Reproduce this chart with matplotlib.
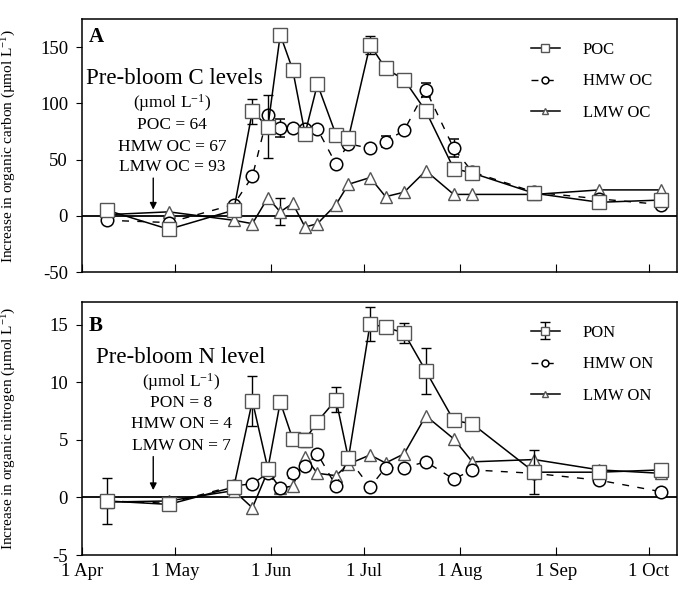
import matplotlib
matplotlib.use('Agg')
import numpy as np
import matplotlib.pyplot as plt
import matplotlib.dates as mdates

plt.rcParams['font.family'] = ['Liberation Serif', 'DejaVu Serif']
plt.rcParams['mathtext.fontset'] = 'custom'
plt.rcParams['mathtext.rm'] = 'Liberation Serif'
plt.rcParams['mathtext.it'] = 'Liberation Serif:italic'
plt.rcParams['axes.unicode_minus'] = False

# ---------------- data ----------------
dates = ['1998-04-09', '1998-04-29', '1998-05-20', '1998-05-26', '1998-05-31',
         '1998-06-04', '1998-06-08', '1998-06-12', '1998-06-16', '1998-06-22',
         '1998-06-26', '1998-07-03', '1998-07-08', '1998-07-14', '1998-07-21',
         '1998-07-30', '1998-08-05', '1998-08-25', '1998-09-15', '1998-10-05']

poc = [5, -12, 5, 93, 79, 161, 130, 73, 117, 72, 69, 152, 131, 121, 93, 42, 38, 20, 12, 14]
poc_err = [0, 0, 0, 11, 28, 0, 0, 0, 0, 0, 0, 8, 0, 5, 0, 0, 0, 0, 0, 0]
hmw_oc = [-4, -6, 10, 35, 90, 78, 78, 77, 77, 46, 64, 60, 66, 76, 112, 60, 39, 21, 15, 10]
hmw_oc_err = [0, 0, 0, 0, 0, 8, 0, 0, 0, 0, 0, 0, 5, 0, 6, 8, 3, 0, 0, 0]
lmw_oc = [1, 3.5, -4, -7, 16, 3.5, 11, -10, -7, 10, 28, 34, 17, 21, 40, 19, 19, 19, 23, 23]
lmw_oc_err = [0, 0, 0, 0, 0, 12, 0, 0, 0, 0, 0, 0, 0, 0, 0, 0, 0, 0, 0, 0]

pon = [-0.3, -0.6, 0.9, 8.4, 2.5, 8.3, 5.1, 5.0, 6.6, 8.5, 3.4, 15.1, 14.8, 14.3, 11.0, 6.7, 6.4, 2.2, 2.2, 2.4]
pon_err = [2.0, 0, 0, 2.2, 0, 0, 0, 0.6, 0, 1.1, 0, 1.5, 0, 0.9, 2.0, 0, 0.3, 1.9, 0.3, 0]
hmw_on = [-0.3, -0.5, 1.0, 1.2, 2.1, 0.8, 2.1, 2.7, 3.8, 1.0, 3.4, 0.9, 2.6, 2.6, 3.1, 1.6, 2.4, 2.1, 1.5, 0.5]
lmw_on = [-0.4, -0.3, 0.6, -0.9, 2.3, 0.8, 1.0, 3.5, 2.1, 1.9, 2.9, 3.7, 3.0, 3.8, 7.1, 5.1, 3.1, 3.3, 2.4, 2.1]

labels_a = ['POC', 'HMW OC', 'LMW OC']
labels_b = ['PON', 'HMW ON', 'LMW ON']
month_ticks = ['1998-04-01', '1998-05-01', '1998-06-01', '1998-07-01',
               '1998-08-01', '1998-09-01', '1998-10-01']
month_labels = ['1 Apr', '1 May', '1 Jun', '1 Jul', '1 Aug', '1 Sep', '1 Oct']

x = np.array(dates, dtype='datetime64[D]')
xt = np.array(month_ticks, dtype='datetime64[D]')
xlim = (np.datetime64('1998-04-01'), np.datetime64('1998-10-10'))

fig = plt.figure(figsize=(6.85, 5.92), dpi=100)
axA = fig.add_axes([0.1197, 0.5405, 0.8683, 0.4275])
axB = fig.add_axes([0.1197, 0.0625, 0.8683, 0.4274])

sq_edge = '#555555'
tri_edge = '#555555'


def draw(ax, s1, e1, s2, e2, s3, e3, labels, legend_err):
    e1 = np.array(e1, float); e2 = np.array(e2, float); e3 = np.array(e3, float)
    ax.axhline(0, color='black', lw=1.3, zorder=1)
    h3 = ax.errorbar(x, s3, yerr=np.where(e3 > 0, e3, np.nan), color='black', lw=1.1,
                     marker='^', ms=9, mfc='white', mec=tri_edge, mew=1.0,
                     capsize=3.5, elinewidth=1.0, ecolor='black', zorder=3)
    h2 = ax.errorbar(x, s2, yerr=np.where(e2 > 0, e2, np.nan), color='black', lw=1.0,
                     ls=(0, (5, 6)), marker='o', ms=9, mfc='white', mec='black', mew=1.1,
                     capsize=3.5, elinewidth=1.0, ecolor='black', zorder=4)
    h1 = ax.errorbar(x, s1, yerr=np.where(e1 > 0, e1, np.nan), color='black', lw=1.1,
                     marker='s', ms=9.5, mfc='white', mec=sq_edge, mew=1.0,
                     capsize=3.5, elinewidth=1.0, ecolor='black', zorder=5)
    ax.set_xlim(*xlim)
    ax.set_xticks(xt)
    ax.tick_params(axis='x', direction='in', length=6, top=False, labelsize=13.5, pad=6)
    ax.tick_params(axis='y', direction='out', length=4, labelsize=13.5, pad=6)
    for sp in ax.spines.values():
        sp.set_linewidth(1.1)
    hl1 = h1 if legend_err else h1[0]
    leg = ax.legend([hl1, h2[0], h3[0]], labels, loc='upper left',
                    bbox_to_anchor=(0.73, 0.97), frameon=False, fontsize=12,
                    markerscale=0.55, handlelength=1.7, handletextpad=1.4,
                    labelspacing=0.95)
    return leg


draw(axA, poc, poc_err, hmw_oc, hmw_oc_err, lmw_oc, lmw_oc_err, labels_a, False)
draw(axB, pon, pon_err, hmw_on, [0] * 20, lmw_on, [0] * 20, labels_b, True)

axA.set_ylim(-50, 175)
axA.set_yticks([-50, 0, 50, 100, 150])
axA.set_xticklabels([])
axB.set_ylim(-5, 17)
axB.set_yticks([-5, 0, 5, 10, 15])
axB.set_xticklabels(month_labels)

axA.set_ylabel('Increase in organic carbon (µmol L$^{\\mathregular{-1}}$)', fontsize=11)
axB.set_ylabel('Increase in organic nitrogen (µmol L$^{\\mathregular{-1}}$)', fontsize=11)
axA.yaxis.set_label_coords(-0.108, 0.5)
axB.yaxis.set_label_coords(-0.108, 0.5)

axA.text(0.012, 0.93, 'A', transform=axA.transAxes, fontsize=15, fontweight='bold',
         va='center', ha='left')
axB.text(0.012, 0.905, 'B', transform=axB.transAxes, fontsize=15, fontweight='bold',
         va='center', ha='left')

d0 = np.datetime64('1998-04-01')
# Panel A annotation
axA.text(d0 + np.timedelta64(30, 'D'), 122, 'Pre-bloom C levels', fontsize=16.5,
         ha='center', va='center')
axA.text(d0 + np.timedelta64(29, 'D'), 100, '(µmol L$^{\\mathregular{-1}}$)', fontsize=12.5,
         ha='center', va='center')
axA.text(d0 + np.timedelta64(29, 'D'), 81, 'POC = 64', fontsize=12.5, ha='center', va='center')
axA.text(d0 + np.timedelta64(29, 'D'), 61.5, 'HMW OC = 67', fontsize=12.5, ha='center', va='center')
axA.text(d0 + np.timedelta64(29, 'D'), 43.5, 'LMW OC = 93', fontsize=12.5, ha='center', va='center')
axA.annotate('', xy=(d0 + np.timedelta64(23, 'D'), 3), xytext=(d0 + np.timedelta64(23, 'D'), 36),
             arrowprops=dict(arrowstyle='-|>', color='black', lw=1.0, mutation_scale=10))
# Panel B annotation
axB.text(d0 + np.timedelta64(32, 'D'), 12.2, 'Pre-bloom N level', fontsize=16.5,
         ha='center', va='center')
axB.text(d0 + np.timedelta64(32, 'D'), 10.0, '(µmol L$^{\\mathregular{-1}}$)', fontsize=12.5,
         ha='center', va='center')
axB.text(d0 + np.timedelta64(32, 'D'), 8.2, 'PON = 8', fontsize=12.5, ha='center', va='center')
axB.text(d0 + np.timedelta64(32, 'D'), 6.35, 'HMW ON = 4', fontsize=12.5, ha='center', va='center')
axB.text(d0 + np.timedelta64(32, 'D'), 4.45, 'LMW ON = 7', fontsize=12.5, ha='center', va='center')
axB.annotate('', xy=(d0 + np.timedelta64(23, 'D'), 0.4), xytext=(d0 + np.timedelta64(23, 'D'), 3.8),
             arrowprops=dict(arrowstyle='-|>', color='black', lw=1.0, mutation_scale=10))

fig.savefig('out.png', dpi=100)
